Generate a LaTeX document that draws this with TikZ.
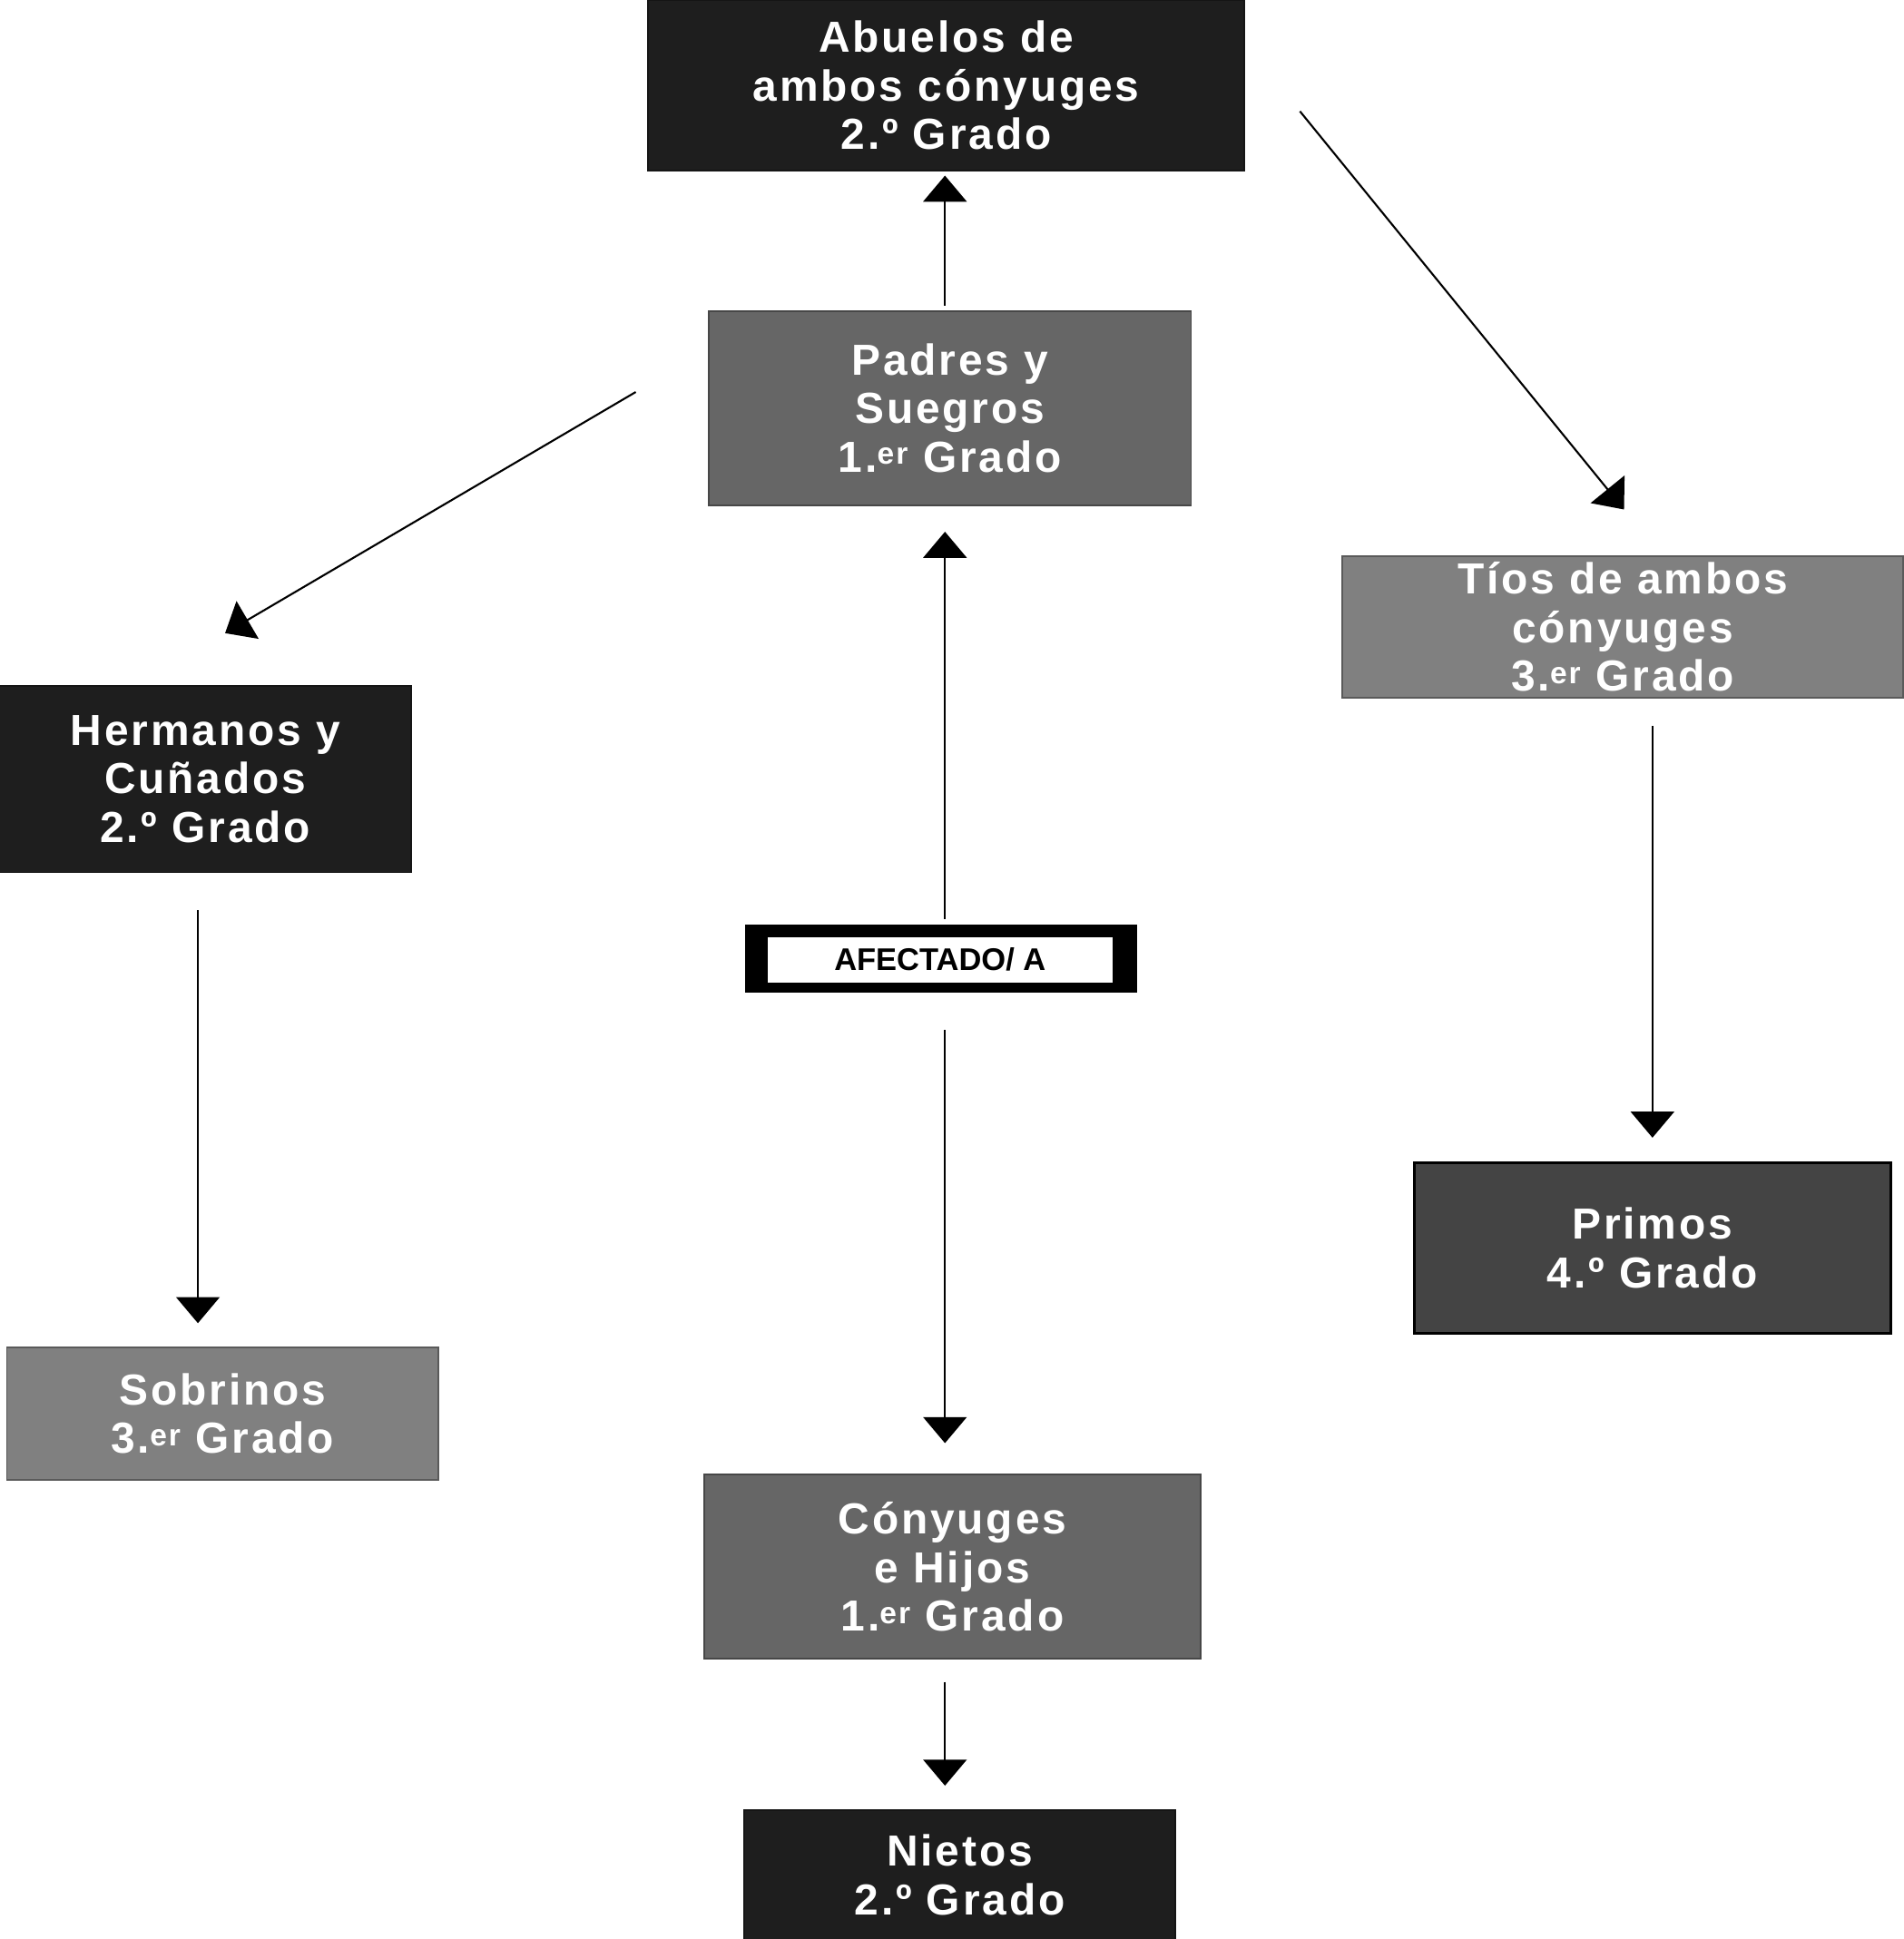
\documentclass[tikz,border=0pt]{standalone}
\usepackage{fontspec}
\setmainfont{Liberation Sans}
\usetikzlibrary{arrows.meta}
\begin{document}
\begin{tikzpicture}[x=0.05cm,y=-0.05cm,
 box/.style={draw=#1!70!black,line width=2pt,fill=#1,text=white,align=center,inner sep=0pt,
   font=\fontsize{50}{56}\selectfont\bfseries\addfontfeature{LetterSpace=6}},
 arr/.style={line width=2.2pt,-{Triangle[width=50pt,length=30pt]}}]
\useasboundingbox (0,0) rectangle (1539,1568);
\definecolor{dk}{HTML}{1E1E1E}\definecolor{md}{HTML}{666666}
\definecolor{lt}{HTML}{808080}\definecolor{pr}{HTML}{444444}
\node[box=dk,minimum width=482*0.05cm,minimum height=138*0.05cm] (abu) at (765,69) {Abuelos de\\ambos cónyuges\\2.º Grado};
\node[box=md,minimum width=390*0.05cm,minimum height=157*0.05cm] (pad) at (768,330) {Padres y\\Suegros\\1.\textsuperscript{er} Grado};
\node[box=lt,minimum width=453*0.05cm,minimum height=114*0.05cm] (tio) at (1312,507) {Tíos de ambos\\cónyuges\\3.\textsuperscript{er} Grado};
\node[box=dk,minimum width=333*0.05cm,minimum height=151*0.05cm] (her) at (166,630) {Hermanos y\\Cuñados\\2.º Grado};
\node[box=lt,minimum width=349*0.05cm,minimum height=107*0.05cm] (sob) at (180,1143) {Sobrinos\\3.\textsuperscript{er} Grado};
\node[box=pr,draw=black,line width=3pt,minimum width=385*0.05cm,minimum height=138*0.05cm] (pri) at (1336,1009) {Primos\\4.º Grado};
\node[box=md,minimum width=401*0.05cm,minimum height=149*0.05cm] (con) at (770,1267) {Cónyuges\\e Hijos\\1.\textsuperscript{er} Grado};
\node[box=dk,minimum width=349*0.05cm,minimum height=105*0.05cm] (nie) at (776,1516) {Nietos\\2.º Grado};
\node[fill=black,minimum width=317*0.05cm,minimum height=55*0.05cm,inner sep=0pt] (afo) at (761,775) {};
\node[fill=white,draw=black,line width=2pt,minimum width=280*0.05cm,minimum height=38*0.05cm,inner sep=0pt,
  font=\fontsize{36}{40}\selectfont\bfseries] (afe) at (760,776) {AFECTADO/ A};
\coordinate (a1) at (764,247); \coordinate (a2) at (764,142);
\coordinate (b1) at (764,743); \coordinate (b2) at (764,430);
\coordinate (c1) at (764,833); \coordinate (c2) at (764,1167);
\coordinate (d1) at (764,1360); \coordinate (d2) at (764,1444);
\coordinate (e1) at (160,736); \coordinate (e2) at (160,1070);
\coordinate (f1) at (1336,587); \coordinate (f2) at (1336,920);
\coordinate (g1) at (514,317); \coordinate (g2) at (182,512);
\coordinate (h1) at (1051,90); \coordinate (h2) at (1313,412);
\foreach \s in {a,b,c,d,e,f,g,h}{\draw[arr] (\s1) -- (\s2);}
\end{tikzpicture}
\end{document}
